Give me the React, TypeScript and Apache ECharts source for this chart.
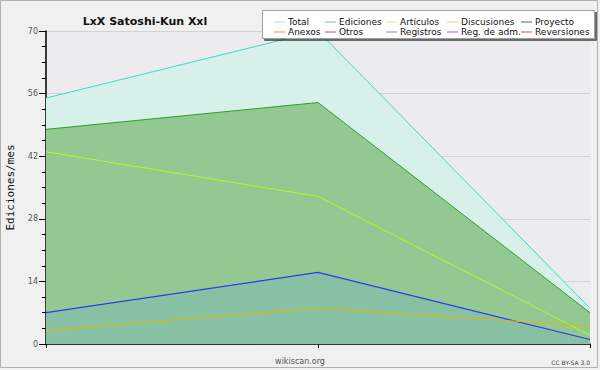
import React, { useEffect, useRef } from "react";
import * as echarts from "echarts";

const categories = ["2019-01", "2019-02", "2019-03"];
const totalValues = [55, 70, 8];
const edicionesValues = [48, 54, 7];
const articulosValues = [43, 33, 2];
const discusionesValues = [3, 8, 4];
const registrosValues = [7, 16, 1];
const yTicks = { min: 0, max: 70, interval: 14 };

const legendColumns: { name: string; color: string }[][] = [
  [{ name: "Total", color: "#a8e6e0" }, { name: "Anexos", color: "#f08a4a" }],
  [{ name: "Ediciones", color: "#80c480" }, { name: "Otros", color: "#8a50d0" }],
  [{ name: "Artículos", color: "#c4f07a" }, { name: "Registros", color: "#7a7af0" }],
  [{ name: "Discusiones", color: "#f0d068" }, { name: "Reg. de adm.", color: "#c850d0" }],
  [{ name: "Proyecto", color: "#606060" }, { name: "Reversiones", color: "#e04848" }],
];
const legendLeft = [269, 320, 381, 442, 516];

export default function App() {
  const ref = useRef<HTMLDivElement>(null);
  useEffect(() => {
    if (!ref.current) return;
    const chart = echarts.init(ref.current, null, { renderer: "svg" });
    const font = "DejaVu Sans";
    const emptySeries = ["Proyecto", "Anexos", "Otros", "Reg. de adm.", "Reversiones"].map((n) => ({
      name: n,
      type: "line",
      data: [] as number[],
    }));
    chart.setOption({
      animation: false,
      backgroundColor: "#f0f0f0",
      title: {
        text: "LxX Satoshi-Kun Xxl",
        left: 140,
        top: 11,
        textAlign: "center",
        textStyle: { fontFamily: font, fontWeight: "bold", fontSize: 11, color: "#111" },
      },
      legend: legendColumns.map((col, i) => ({
        orient: "vertical",
        left: legendLeft[i],
        top: 12,
        z: 20,
        itemWidth: 11,
        itemHeight: 1,
        itemGap: 0,
        icon: "rect",
        selectedMode: false,
        textStyle: { fontFamily: font, fontSize: 9, color: "#111", lineHeight: 10, padding: [0, 0, 0, -2] },
        data: col.map((c) => ({ name: c.name, icon: "rect", itemStyle: { color: c.color } })),
      })),
      graphic: {
        elements: [
          {
            type: "rect",
            shape: { x: 0.5, y: 0.5, width: 597, height: 367 },
            style: { fill: "none", stroke: "#b0b0b0", lineWidth: 1 },
            z: 0,
          },
          {
            type: "rect",
            shape: { x: 262.5, y: 10.5, width: 332, height: 28 },
            style: {
              fill: "#ffffff",
              stroke: "#a0a0a0",
              lineWidth: 1,
              shadowColor: "rgba(0,0,0,0.55)",
              shadowOffsetX: 2,
              shadowOffsetY: 2,
              shadowBlur: 0,
            },
            z: 10,
          },
          {
            type: "text",
            x: 300,
            y: 361,
            style: {
              text: "wikiscan.org",
              fontFamily: font,
              fontSize: 8,
              fill: "#555",
              align: "center",
              verticalAlign: "middle",
            },
          },
          {
            type: "text",
            x: 590,
            y: 362,
            style: {
              text: "CC BY-SA 3.0",
              fontFamily: font,
              fontSize: 6,
              fill: "#444",
              align: "right",
              verticalAlign: "middle",
            },
          },
        ],
      },
      grid: {
        left: 46,
        right: 10,
        top: 31,
        bottom: 26,
        show: true,
        backgroundColor: "#ececee",
        borderWidth: 0,
        containLabel: false,
        outerBoundsMode: "none",
      },
      xAxis: {
        type: "category",
        data: categories,
        boundaryGap: false,
        axisLine: { lineStyle: { color: "#000", width: 1.5 } },
        axisTick: { length: 4, lineStyle: { color: "#000" } },
        axisLabel: { show: false },
        splitLine: { show: false },
      },
      yAxis: {
        type: "value",
        min: yTicks.min,
        max: yTicks.max,
        interval: yTicks.interval,
        name: "Ediciones/mes",
        nameLocation: "middle",
        nameGap: 30,
        nameTextStyle: { fontFamily: "DejaVu Sans Mono", fontSize: 11, color: "#111" },
        axisLine: { show: true, lineStyle: { color: "#000", width: 1.5 } },
        axisTick: { show: true, length: 7, lineStyle: { color: "#000" } },
        minorTick: { show: true, splitNumber: 4, length: 4, lineStyle: { color: "#000" } },
        axisLabel: { fontFamily: font, fontSize: 8, color: "#555", margin: 8 },
        splitLine: { show: true, lineStyle: { color: "#d2d2d2", width: 1 } },
      },
      series: [
        {
          name: "Total",
          type: "line",
          data: totalValues,
          symbol: "none",
          lineStyle: { color: "#3cd8cc", width: 1 },
          itemStyle: { color: "#3cd8cc" },
          areaStyle: { color: "#d8f0ea", opacity: 1 },
          z: 2,
        },
        {
          name: "Ediciones",
          type: "line",
          data: edicionesValues,
          symbol: "none",
          lineStyle: { color: "#2aa02a", width: 1 },
          itemStyle: { color: "#2aa02a" },
          areaStyle: { color: "#92c992", opacity: 1 },
          z: 3,
        },
        {
          name: "Registros",
          type: "line",
          data: registrosValues,
          symbol: "none",
          lineStyle: { color: "#2a3cf0", width: 1.2 },
          itemStyle: { color: "#2a3cf0" },
          areaStyle: { color: "#88c0a3", opacity: 1 },
          z: 4,
        },
        {
          name: "Artículos",
          type: "line",
          data: articulosValues,
          symbol: "none",
          lineStyle: { color: "#aaff22", width: 1 },
          itemStyle: { color: "#aaff22" },
          z: 5,
        },
        {
          name: "Discusiones",
          type: "line",
          data: discusionesValues,
          symbol: "none",
          lineStyle: { color: "#e8b400", width: 1 },
          itemStyle: { color: "#e8b400" },
          z: 5,
        },
        ...emptySeries,
      ],
    });
    return () => chart.dispose();
  }, []);
  return (
    <div
      ref={ref}
      style={{ position: "absolute", left: 0, top: 0, width: 600, height: 370 }}
    />
  );
}
